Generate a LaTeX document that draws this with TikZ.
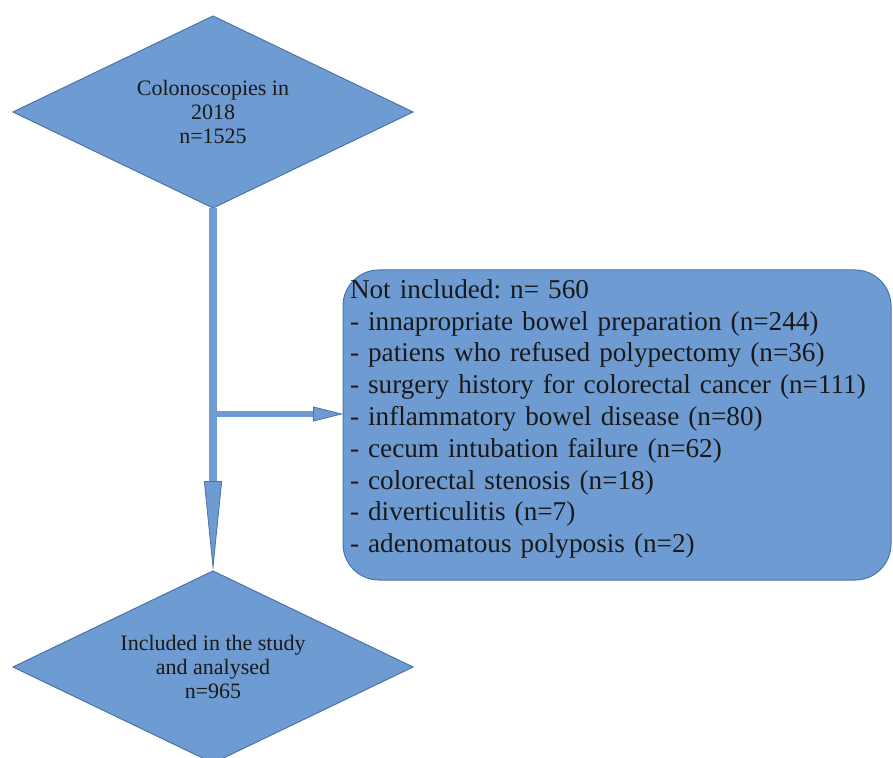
\documentclass[tikz,border=0pt]{standalone}
\usepackage{fontspec}
\setmainfont{Liberation Serif}
\newfontfamily\flowfont{Liberation Serif}
\usetikzlibrary{arrows.meta,positioning,calc,shapes.geometric}
\definecolor{boxfill}{RGB}{110,156,210}
\definecolor{boxedge}{RGB}{72,116,170}
\frenchspacing

\begin{document}
\begin{tikzpicture}[x=0.5pt,y=-0.5pt,
    flow/.style={fill=boxfill,draw=boxedge,line width=0.5pt,text=black!90,outer sep=0pt,inner sep=0pt},
    decision/.style={flow,diamond,aspect=2,minimum width=200pt,minimum height=96pt,align=center,font=\flowfont\fontsize{11}{12}\selectfont},
    excluded/.style={flow,rounded corners=18pt,minimum width=274pt,minimum height=155pt,text width=267pt,align=left,font=\flowfont\fontsize{13.6}{15.9}\selectfont},
    mainflow/.style={boxfill,line width=4pt,-{Triangle[length=45pt,width=9pt,line width=0.4pt,color=boxedge,fill=boxfill]}},
    sideflow/.style={boxfill,line width=3pt,-{Triangle[length=15pt,width=7.5pt,line width=0.4pt,color=boxedge,fill=boxfill]}}
]
\useasboundingbox (0,0) rectangle (893,758);
\node[decision] (scope) at (213,112) {Colonoscopies in\\2018\\n=1525};
\node[decision] (incl) at (213,667) {Included in the study\\and analysed\\n=965};
\node[excluded,anchor=north west] (notin) at (343,270) {Not included: n= 560\\
    - innapropriate bowel preparation (n=244)\\
    - patiens who refused polypectomy (n=36)\\
    - surgery history for colorectal cancer (n=111)\\
    - inflammatory bowel disease (n=80)\\
    - cecum intubation failure (n=62)\\
    - colorectal stenosis (n=18)\\
    - diverticulitis (n=7)\\
    - adenomatous polyposis (n=2)\rule[-9pt]{0pt}{0pt}};
\coordinate (branch) at (213,414);
\draw[sideflow] (branch) -- (branch -| notin.west);
\draw[mainflow] (scope.south) -- (incl.north);
\end{tikzpicture}
\end{document}
